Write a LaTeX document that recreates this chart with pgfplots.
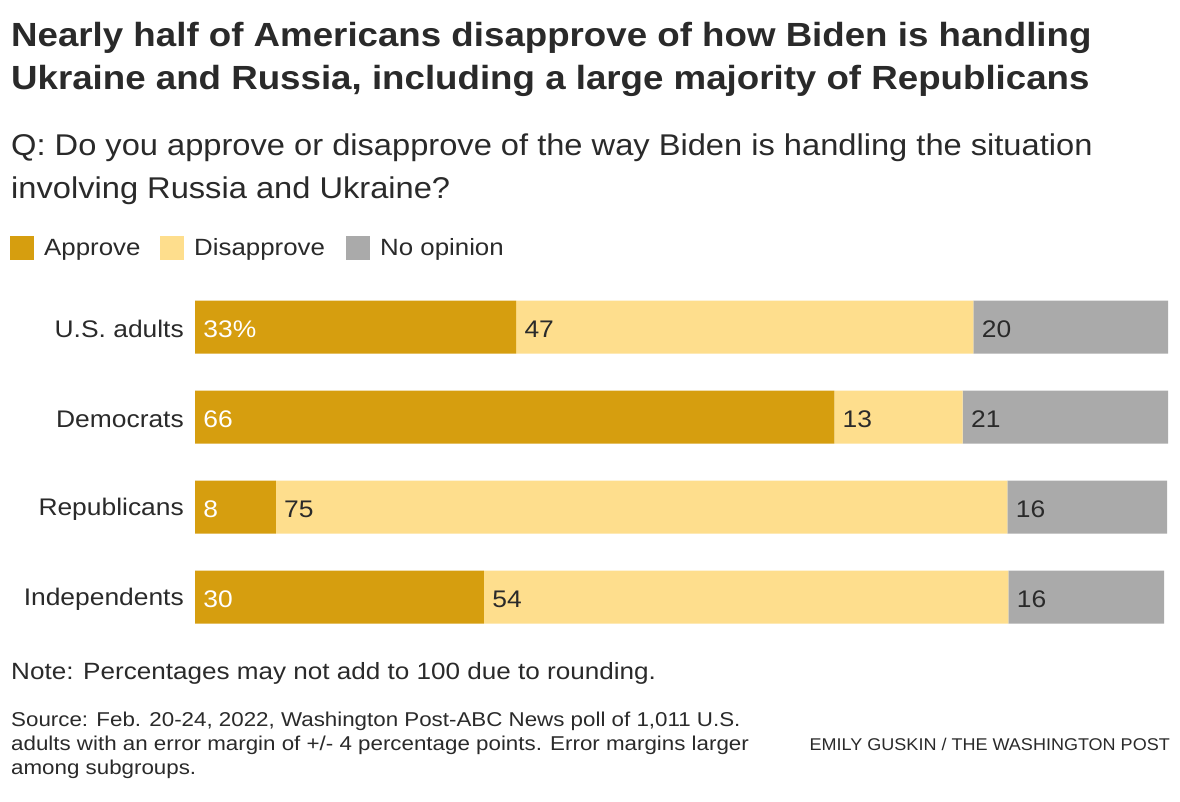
\documentclass[border=0pt]{standalone}
\usepackage{fontspec}
\setmainfont{Liberation Sans}[FakeStretch=1.1]
\newfontfamily\titlefont[FakeStretch=1.095]{Liberation Sans}
\newfontfamily\subfont[FakeStretch=1.088]{Liberation Sans}
\newfontfamily\notefont[FakeStretch=1.11]{Liberation Sans}
\newfontfamily\srcfont[FakeStretch=1.117]{Liberation Sans}
\newfontfamily\credfont[FakeStretch=1.06]{Liberation Sans}
\usepackage{pgfplots}
\pgfplotsset{compat=1.18}
\definecolor{appr}{HTML}{D69E0F}
\definecolor{disa}{HTML}{FEDE8D}
\definecolor{noop}{HTML}{AAAAAA}
\definecolor{txt}{HTML}{2A2A2A}
\begin{document}
\begin{tikzpicture}[x=1pt,y=1pt,
  lab/.style={anchor=west, inner sep=0pt, yshift=-2pt, font=\fontsize{24}{28}\selectfont}]
\useasboundingbox[fill=white] (0,0) rectangle (1180,-802);
% Title
\node[anchor=base west,inner sep=0,text=txt] at (11,-47) {\titlefont\bfseries\fontsize{33.5}{42}\selectfont Nearly half of Americans disapprove of how Biden is handling};
\node[anchor=base west,inner sep=0,text=txt] at (11,-90) {\titlefont\bfseries\fontsize{33.5}{42}\selectfont Ukraine and Russia, including a large majority of Republicans};
% Subtitle
\node[anchor=base west,inner sep=0,text=txt] at (11,-156) {\subfont\fontsize{30}{40}\selectfont Q: Do you approve or disapprove of the way Biden is handling the situation};
\node[anchor=base west,inner sep=0,text=txt] at (11,-199) {\subfont\fontsize{30}{40}\selectfont involving Russia and Ukraine?};
% Legend
\fill[appr] (10,-236) rectangle (34,-260);
\node[anchor=base west,inner sep=0,text=txt] at (44,-256) {\fontsize{23.5}{28}\selectfont Approve};
\fill[disa] (160,-236) rectangle (184,-260);
\node[anchor=base west,inner sep=0,text=txt] at (194,-256) {\fontsize{23.5}{28}\selectfont Disapprove};
\fill[noop] (346,-236) rectangle (370,-260);
\node[anchor=base west,inner sep=0,text=txt] at (380,-256) {\fontsize{23.5}{28}\selectfont No opinion};
\begin{axis}[
  at={(195pt,-282pt)}, anchor=north west,
  scale only axis, width=973pt, height=360pt,
  xbar stacked, bar width=53pt,
  xmin=0, xmax=100, ymin=0.5, ymax=4.5,
  y dir=reverse,
  axis line style={draw=none}, tick style={draw=none},
  xtick=\empty,
  ytick={1,2,3,4},
  yticklabels={U.S. adults,Democrats,Republicans,Independents},
  yticklabel style={font=\fontsize{24}{28}\selectfont, text=txt, inner xsep=0pt, xshift=-11pt, yshift=-2pt},
  clip=false,
]
\addplot[fill=appr, draw=none] coordinates {(33.0,1) (65.7,2) (8.3,3) (29.7,4)};
\addplot[fill=disa, draw=none] coordinates {(47.0,1) (13.2,2) (75.2,3) (53.9,4)};
\addplot[fill=noop, draw=none] coordinates {(20.0,1) (21.1,2) (16.4,3) (16.0,4)};
\coordinate (a1) at (axis cs:0.85,1);
\coordinate (b1) at (axis cs:33.85,1);
\coordinate (c1) at (axis cs:80.85,1);
\coordinate (a2) at (axis cs:0.85,2);
\coordinate (b2) at (axis cs:66.55,2);
\coordinate (c2) at (axis cs:79.75,2);
\coordinate (a3) at (axis cs:0.85,3);
\coordinate (b3) at (axis cs:9.15,3);
\coordinate (c3) at (axis cs:84.35,3);
\coordinate (a4) at (axis cs:0.85,4);
\coordinate (b4) at (axis cs:30.55,4);
\coordinate (c4) at (axis cs:84.45,4);
\end{axis}
\node[lab,text=white] at (a1) {33\%};
\node[lab,text=txt] at (b1) {47};
\node[lab,text=txt] at (c1) {20};
\node[lab,text=white] at (a2) {66};
\node[lab,text=txt] at (b2) {13};
\node[lab,text=txt] at (c2) {21};
\node[lab,text=white] at (a3) {8};
\node[lab,text=txt] at (b3) {75};
\node[lab,text=txt] at (c3) {16};
\node[lab,text=white] at (a4) {30};
\node[lab,text=txt] at (b4) {54};
\node[lab,text=txt] at (c4) {16};
% Note
\node[anchor=base west,inner sep=0,text=txt] at (11,-679) {\notefont\fontsize{23.5}{28}\selectfont Note: Percentages may not add to 100 due to rounding.};
% Source
\node[anchor=base west,inner sep=0,text=txt] at (11,-726) {\srcfont\fontsize{20}{24}\selectfont Source: Feb. 20-24, 2022, Washington Post-ABC News poll of 1,011 U.S.};
\node[anchor=base west,inner sep=0,text=txt] at (11,-750) {\srcfont\fontsize{20}{24}\selectfont adults with an error margin of +/- 4 percentage points. Error margins larger};
\node[anchor=base west,inner sep=0,text=txt] at (11,-774) {\srcfont\fontsize{20}{24}\selectfont among subgroups.};
\node[anchor=base east,inner sep=0,text=txt] at (1170,-750) {\credfont\fontsize{17}{22}\selectfont EMILY GUSKIN / THE WASHINGTON POST};
\end{tikzpicture}
\end{document}
